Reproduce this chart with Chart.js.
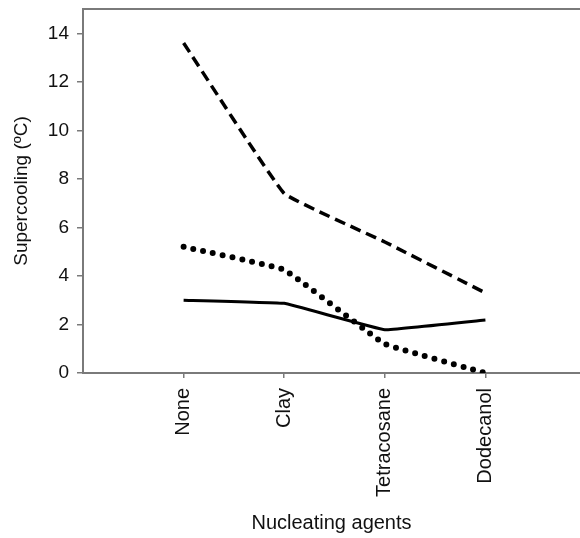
<!DOCTYPE html>
<html>
<head>
<meta charset="utf-8">
<script src="https://cdn.jsdelivr.net/npm/chart.js@4/dist/chart.umd.min.js"></script>
<style>
  html, body { margin: 0; padding: 0; background: #fff; }
  #wrap { width: 580px; height: 538px; }
</style>
</head>
<body>
<div id="wrap"><canvas id="c" width="580" height="538"></canvas></div>
<script>
// Nucleating agents on the x axis, supercooling (ºC) per series
const agents = ['None', 'Clay', 'Tetracosane', 'Dodecanol'];
const dashedSeries = [13.6, 7.4, 5.4, 3.3];
const dottedSeries = [5.2, 4.25, 1.2, 0.0];
const solidSeries = [3.0, 2.87, 1.78, 2.18];
const yTicks = [0, 2, 4, 6, 8, 10, 12, 14];

const toPoints = vals => vals.map((v, i) => ({ x: i + 1, y: v }));
const axisGray = '#7a7a7a';
const textColor = '#111';
const family = 'Liberation Sans, Arial, sans-serif';

new Chart(document.getElementById('c'), {
  type: 'line',
  data: {
    datasets: [
      {
        data: toPoints(dashedSeries),
        borderColor: '#000',
        borderWidth: 3.5,
        borderDash: [11, 6],
        tension: 0.08,
        pointRadius: 0
      },
      {
        data: toPoints(dottedSeries),
        borderColor: '#000',
        borderWidth: 6,
        borderDash: [0, 10],
        borderCapStyle: 'round',
        tension: 0.08,
        pointRadius: 0
      },
      {
        data: toPoints(solidSeries),
        borderColor: '#000',
        borderWidth: 3,
        tension: 0.05,
        pointRadius: 0
      }
    ]
  },
  options: {
    responsive: false,
    animation: false,
    layout: { padding: 0 },
    plugins: { legend: { display: false }, tooltip: { enabled: false } },
    scales: {
      x: {
        type: 'linear',
        min: 0,
        max: 4.94,
        afterBuildTicks: s => { s.ticks = agents.map((_, i) => ({ value: i + 1 })); },
        afterFit: s => { s.height = 165; s.paddingLeft = 0; s.paddingRight = 0; },
        ticks: {
          autoSkip: false,
          minRotation: 90,
          maxRotation: 90,
          padding: 10,
          color: textColor,
          font: { family, size: 20 },
          callback: v => agents[Math.round(v) - 1]
        },
        grid: { drawOnChartArea: false, tickLength: 5, color: axisGray, lineWidth: 1.5 },
        border: { color: axisGray, width: 2 },
        title: {
          display: true,
          text: 'Nucleating agents',
          color: textColor,
          font: { family, size: 20 },
          padding: { top: 4, bottom: 3 }
        }
      },
      xTop: {
        type: 'linear',
        position: 'top',
        min: 0,
        max: 4.94,
        afterFit: s => { s.height = 9; s.paddingLeft = 0; s.paddingRight = 0; },
        ticks: { display: false },
        grid: { drawOnChartArea: false, drawTicks: false },
        border: { color: axisGray, width: 2 }
      },
      y: {
        min: 0,
        max: 15,
        afterBuildTicks: s => { s.ticks = yTicks.map(v => ({ value: v })); },
        afterFit: s => { s.width = 83; s.paddingTop = 0; s.paddingBottom = 0; },
        ticks: {
          padding: 8,
          color: textColor,
          font: { family, size: 19 }
        },
        grid: { drawOnChartArea: false, tickLength: 6, color: axisGray, lineWidth: 1.5 },
        border: { color: axisGray, width: 2 },
        title: {
          display: true,
          text: 'Supercooling (ºC)',
          color: textColor,
          font: { family, size: 19 },
          padding: { top: 10, bottom: 4 }
        }
      }
    }
  }
});
</script>
</body>
</html>
